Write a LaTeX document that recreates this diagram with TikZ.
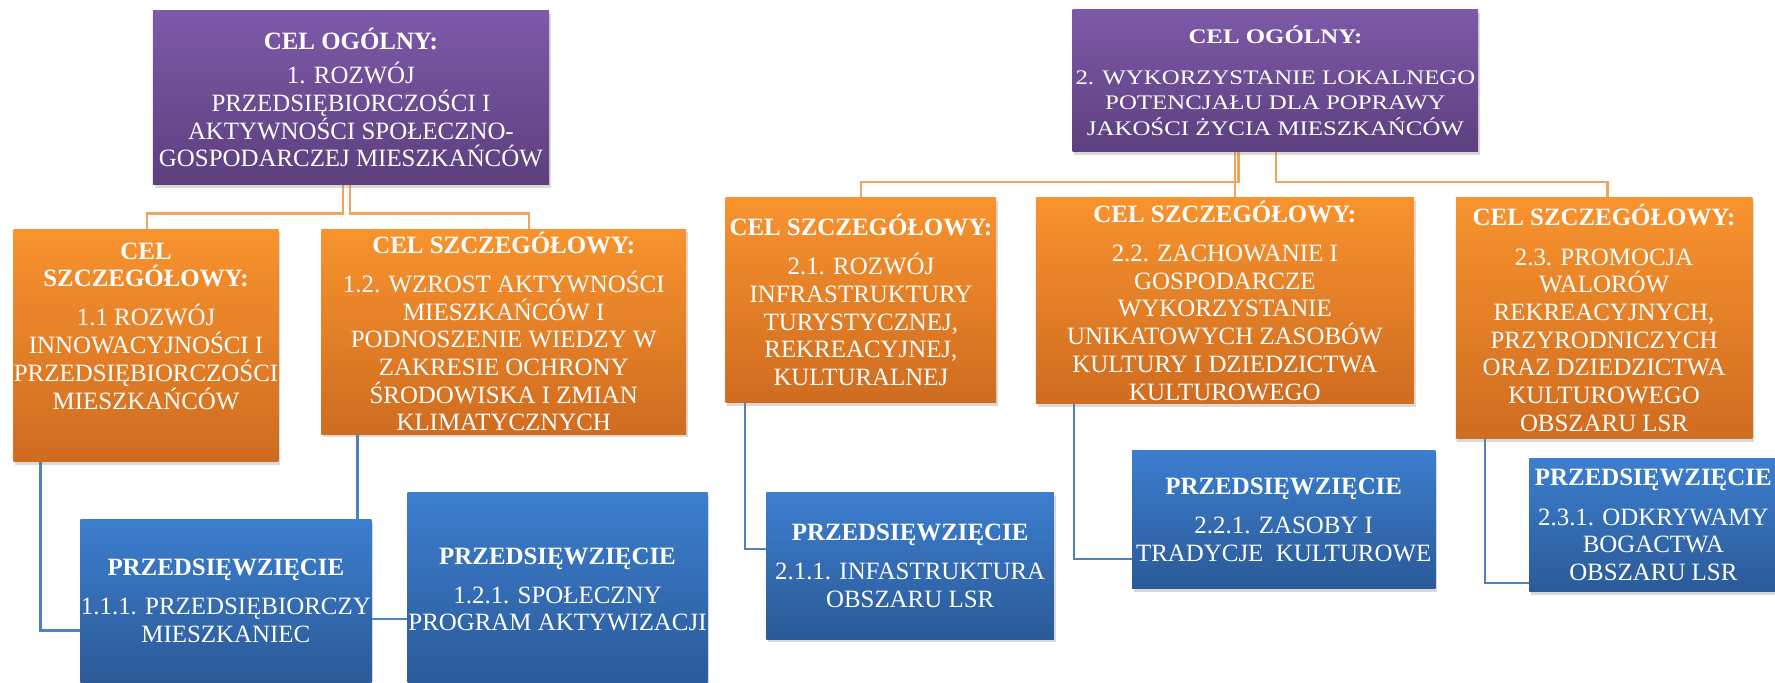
\documentclass[tikz,border=0pt]{standalone}
\usepackage{fontspec}
\setmainfont{Liberation Serif}
\newfontfamily\stretchedfont{Liberation Serif}[FakeStretch=1.2]
\usetikzlibrary{backgrounds,shadows}
\definecolor{goaltop}{HTML}{7D59A8}
\definecolor{goalbottom}{HTML}{5C407E}
\definecolor{aimtop}{HTML}{F8932E}
\definecolor{aimbottom}{HTML}{CF6C20}
\definecolor{tasktop}{HTML}{3C7ECF}
\definecolor{taskbottom}{HTML}{2B5A97}
\definecolor{linkorange}{HTML}{F3A35E}
\definecolor{linkblue}{HTML}{4F81BD}
\newcommand{\wideline}[1]{\makebox[0pt]{#1}}

\begin{document}
\begin{tikzpicture}
[x=1pt,y=-1pt,%
  cardbox/.style={shape=rectangle,inner sep=0pt,align=center,text=white,%
    font=\fontsize{22}{24.5}\selectfont,%
    drop shadow={shadow xshift=1.5pt,shadow yshift=-3pt,opacity=0.3}},%
  goalbox/.style={cardbox,top color=goaltop,bottom color=goalbottom},%
  aimbox/.style={cardbox,top color=aimtop,bottom color=aimbottom},%
  taskbox/.style={cardbox,top color=tasktop,bottom color=taskbottom},%
  treeline/.style={-,line width=2pt,draw=linkorange},%
  taskline/.style={-,line width=2pt,draw=linkblue}]
\useasboundingbox (0,0) rectangle (1568,603);
%% general goals
\node (p1) at (310,86.1) [goalbox,minimum width=350pt,minimum height=153.4pt]
  {\textbf{CEL OGÓLNY:}\\[6pt]1. ROZWÓJ\\PRZEDSIĘBIORCZOŚCI I\\AKTYWNOŚCI SPOŁECZNO-\\\wideline{GOSPODARCZEJ MIESZKAŃCÓW}};
\node (p2) at (1126.7,71.15) [goalbox,minimum width=358.2pt,minimum height=125.7pt,%
  font=\stretchedfont\fontsize{18.3}{22.5}\selectfont]
  {\textbf{CEL OGÓLNY:}\\[14pt]\wideline{2. WYKORZYSTANIE LOKALNEGO}\\POTENCJAŁU DLA POPRAWY\\JAKOŚCI ŻYCIA MIESZKAŃCÓW};
%% specific goals
\node (o11) at (129,305.05) [aimbox,minimum width=234pt,minimum height=205.5pt]
  {\textbf{CEL}\\\textbf{SZCZEGÓŁOWY:}\\[10pt]1.1 ROZWÓJ\\\wideline{INNOWACYJNOŚCI I}\\\wideline{PRZEDSIĘBIORCZOŚCI}\\MIESZKAŃCÓW\\[10pt]\mbox{}};
\node (o12) at (445,292.85) [aimbox,minimum width=322pt,minimum height=181.1pt]
  {\textbf{CEL SZCZEGÓŁOWY:}\\[10pt]1.2. WZROST AKTYWNOŚCI\\MIESZKAŃCÓW I\\PODNOSZENIE WIEDZY W\\ZAKRESIE OCHRONY\\ŚRODOWISKA I ZMIAN\\KLIMATYCZNYCH};
\node (o21) at (760.5,265.15) [aimbox,minimum width=239pt,minimum height=181.1pt]
  {\wideline{\textbf{CEL SZCZEGÓŁOWY:}}\\[10pt]2.1. ROZWÓJ\\INFRASTRUKTURY\\TURYSTYCZNEJ,\\REKREACYJNEJ,\\KULTURALNEJ};
\node (o22) at (1082,265.6) [aimbox,minimum width=334pt,minimum height=182pt]
  {\textbf{CEL SZCZEGÓŁOWY:}\\[10pt]2.2. ZACHOWANIE I\\GOSPODARCZE\\WYKORZYSTANIE\\UNIKATOWYCH ZASOBÓW\\KULTURY I DZIEDZICTWA\\KULTUROWEGO};
\node (o23) at (1417,281.05) [aimbox,minimum width=262pt,minimum height=212.9pt]
  {\textbf{CEL SZCZEGÓŁOWY:}\\[10pt]2.3. PROMOCJA\\WALORÓW\\REKREACYJNYCH,\\PRZYRODNICZYCH\\ORAZ DZIEDZICTWA\\KULTUROWEGO\\OBSZARU LSR};
%% tasks
\node (b111) at (199.5,530.9) [taskbox,minimum width=257pt,minimum height=144.2pt]
  {\textbf{PRZEDSIĘWZIĘCIE}\\[10pt]\wideline{1.1.1. PRZEDSIĘBIORCZY}\\MIESZKANIEC};
\node (b121) at (492.5,520.6) [taskbox,minimum width=265pt,minimum height=170.8pt]
  {\textbf{PRZEDSIĘWZIĘCIE}\\[10pt]1.2.1. SPOŁECZNY\\\wideline{PROGRAM AKTYWIZACJI}};
\node (b211) at (804,499.75) [taskbox,minimum width=254pt,minimum height=129.5pt]
  {\textbf{PRZEDSIĘWZIĘCIE}\\[10pt]\wideline{2.1.1. INFASTRUKTURA}\\OBSZARU LSR};
\node (b221) at (1134,459.15) [taskbox,minimum width=268pt,minimum height=122.3pt]
  {\textbf{PRZEDSIĘWZIĘCIE}\\[10pt]2.2.1. ZASOBY I\\\wideline{TRADYCJE~ KULTUROWE}};
\node (b231) at (1460.5,463.85) [taskbox,minimum width=219pt,minimum height=117.7pt]
  {\textbf{PRZEDSIĘWZIĘCIE}\\[10pt]2.3.1. ODKRYWAMY\\BOGACTWA\\OBSZARU LSR};
%% edges or lines
\begin{scope}[on background layer]
\foreach \startnode/\endnode/\dx/\ex/\drop in {p1/o11/-7/1/25.7, p1/o12/-1/22/25.7,%
    p2/o21/-32.7/0/26.5, p2/o22/-35.7/9/26.5, p2/o23/0.3/3/26.5} {
  \draw[treeline] ([xshift=\dx pt]\startnode.south) -- ++(0,\drop) -| ([xshift=\ex pt]\endnode.north);
}
\foreach \startnode/\endnode/\dx/\dy in {o11/b111/24/-26.1, o12/b121/32/-26.3,%
    o21/b211/17/14.8, o22/b221/34/-34.8, o23/b231/26/-51.4} {
  \draw[taskline] ([xshift=\dx pt]\startnode.south west) |- ([yshift=\dy pt]\endnode.west);
}
\end{scope}
\end{tikzpicture}
\end{document}
